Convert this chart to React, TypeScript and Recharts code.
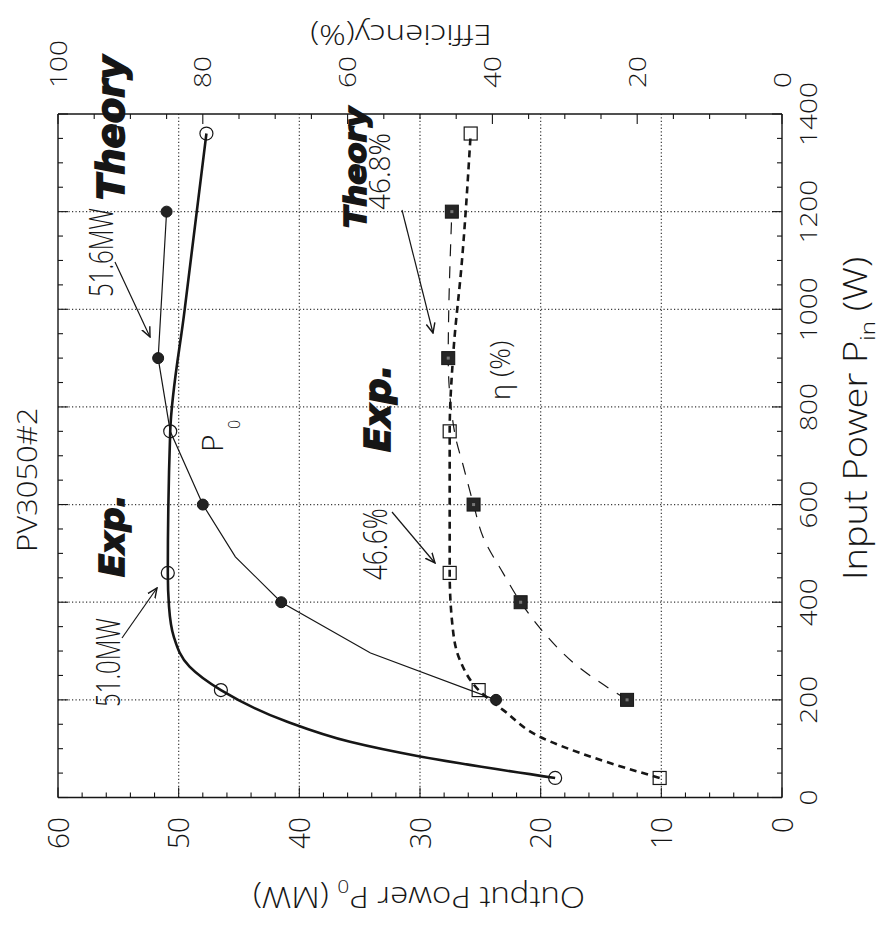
import React from 'react';
import { ComposedChart, Line, Scatter, XAxis, YAxis, CartesianGrid } from 'recharts';

// The scanned figure is lying on its side, so the chart is built upright and turned -90deg.
const CHART_W = 934;
const CHART_H = 883;

const INK = '#161616';
const FONT = '"Open Sans", "Liberation Sans", Arial, sans-serif';
const HAND = '"DejaVu Sans", "Liberation Sans", sans-serif';

// ticks
const pinTicks = [0, 50, 100, 150, 200, 250, 300, 350, 400, 450, 500, 550, 600, 650, 700, 750, 800, 850, 900, 950, 1000, 1050, 1100, 1150, 1200, 1250, 1300, 1350, 1400];
const pinLabels = [0, 200, 400, 600, 800, 1000, 1200, 1400];
const pinGrid = [200, 400, 600, 800, 1000, 1200];
const mwTicks = [0, 2, 4, 6, 8, 10, 12, 14, 16, 18, 20, 22, 24, 26, 28, 30, 32, 34, 36, 38, 40, 42, 44, 46, 48, 50, 52, 54, 56, 58, 60];
const mwLabels = [0, 10, 20, 30, 40, 50, 60];
const mwGrid = [10, 20, 30, 40, 50];
const effTicks = [0, 5, 10, 15, 20, 25, 30, 35, 40, 45, 50, 55, 60, 65, 70, 75, 80, 85, 90, 95, 100];
const effLabels = [0, 20, 40, 60, 80, 100];

// output power P0 (MW) vs input power (W)
const expPowerMarks = [
  { x: 40, y: 18.8 }, { x: 220, y: 46.5 }, { x: 460, y: 50.9 }, { x: 750, y: 50.7 }, { x: 1360, y: 47.7 },
];
const expPowerCurve = [
  { x: 40, y: 18.8 }, { x: 70, y: 26.7 }, { x: 84, y: 30.0 }, { x: 114, y: 35.8 }, { x: 155, y: 41.0 },
  { x: 220, y: 46.5 }, { x: 268, y: 49.1 }, { x: 329, y: 50.4 }, { x: 391, y: 50.8 }, { x: 460, y: 50.9 },
  { x: 750, y: 50.7 }, { x: 1000, y: 49.5 }, { x: 1360, y: 47.7 },
];
const theoryPowerMarks = [
  { x: 200, y: 23.7 }, { x: 400, y: 41.5 }, { x: 600, y: 48.0 }, { x: 900, y: 51.7 }, { x: 1200, y: 51.0 },
];
const theoryPowerCurve = [
  { x: 200, y: 23.7 }, { x: 296, y: 34.1 }, { x: 400, y: 41.5 }, { x: 493, y: 45.3 }, { x: 600, y: 48.0 },
  { x: 750, y: 50.7 }, { x: 900, y: 51.7 }, { x: 1200, y: 51.0 },
];

// efficiency (%) vs input power (W)
const expEffMarks = [
  { x: 40, y: 16.9 }, { x: 220, y: 41.9 }, { x: 460, y: 45.9 }, { x: 750, y: 45.9 }, { x: 1360, y: 43.0 },
];
const expEffCurve = [
  { x: 40, y: 16.9 }, { x: 82, y: 26.1 }, { x: 124, y: 33.4 }, { x: 179, y: 38.5 }, { x: 220, y: 41.9 },
  { x: 282, y: 44.5 }, { x: 350, y: 45.5 }, { x: 460, y: 45.9 }, { x: 750, y: 45.9 }, { x: 910, y: 45.4 },
  { x: 1100, y: 44.2 }, { x: 1360, y: 43.0 },
];
const theoryEffMarks = [
  { x: 200, y: 21.4 }, { x: 400, y: 36.1 }, { x: 600, y: 42.6 }, { x: 900, y: 46.1 }, { x: 1200, y: 45.6 },
];
const theoryEffCurve = [
  { x: 200, y: 21.4 }, { x: 271, y: 28.4 }, { x: 343, y: 33.2 }, { x: 400, y: 36.1 }, { x: 459, y: 38.5 },
  { x: 534, y: 41.3 }, { x: 600, y: 42.6 }, { x: 678, y: 44.0 }, { x: 746, y: 45.2 }, { x: 900, y: 46.1 },
  { x: 1200, y: 45.6 },
];

// text with a vertical squash, the scan is not square
const Txt = ({ x, y, size, sy = 1, rot = 0, anchor = 'start', hand = false, children }: any) => (
  <text
    transform={`translate(${x} ${y}) rotate(${rot}) scale(1 ${sy})`}
    textAnchor={anchor}
    fontSize={size}
    fontFamily={hand ? HAND : FONT}
    fontWeight={hand ? 700 : 300}
    fontStyle={hand ? 'italic' : 'normal'}
    fill={INK}
    stroke={hand ? INK : 'none'}
    strokeWidth={hand ? 1.6 : 0}
  >
    {children}
  </text>
);

const PinTick = ({ x, y, payload }: any) => {
  const major = pinLabels.includes(payload.value);
  return (
    <g>
      <line x1={x} x2={x} y1={y} y2={y - (major ? 10 : 5)} stroke={INK} strokeWidth={1.1} />
      {major && (
        <text transform={`translate(${x} ${y + 26}) scale(1 0.85)`} dy="0.36em" textAnchor="middle"
          fontSize={28} fontFamily={FONT} fontWeight={300} fill={INK}>{payload.value}</text>
      )}
    </g>
  );
};

const PinTopTick = ({ x, y, payload }: any) => {
  const major = pinLabels.includes(payload.value);
  return <line x1={x} x2={x} y1={y} y2={y + (major ? 10 : 5)} stroke={INK} strokeWidth={1.1} />;
};

const MwTick = ({ x, y, payload }: any) => {
  const major = mwLabels.includes(payload.value);
  return (
    <g>
      <line x1={x} x2={x + (major ? 10 : 5)} y1={y} y2={y} stroke={INK} strokeWidth={1.1} />
      {major && (
        <text transform={`translate(${x - 19.5} ${y}) scale(1 1.05)`} dy="0.36em" textAnchor="end"
          fontSize={28} fontFamily={FONT} fontWeight={300} fill={INK}>{payload.value}</text>
      )}
    </g>
  );
};

const EffTick = ({ x, y, payload }: any) => {
  const major = effLabels.includes(payload.value);
  return (
    <g>
      <line x1={x} x2={x - (major ? 10 : 5)} y1={y} y2={y} stroke={INK} strokeWidth={1.1} />
      {major && (
        <text transform={`translate(${x + 26} ${y}) scale(1 0.85)`} dy="0.36em" textAnchor="start"
          fontSize={28} fontFamily={FONT} fontWeight={300} fill={INK}>{payload.value}</text>
      )}
    </g>
  );
};

const openCircle = (p: any) => <circle cx={p.cx} cy={p.cy} r={6.5} fill="none" stroke={INK} strokeWidth={1.2} />;
const filledCircle = (p: any) => <circle cx={p.cx} cy={p.cy} r={5.5} fill="#222" stroke={INK} strokeWidth={1} />;
const openSquare = (p: any) => <rect x={p.cx - 6.5} y={p.cy - 6.5} width={13} height={13} fill="none" stroke={INK} strokeWidth={1.2} />;
const filledSquare = (p: any) => (
  <g>
    <rect x={p.cx - 6.5} y={p.cy - 6.5} width={13} height={13} fill="#262626" stroke={INK} strokeWidth={1} />
    <rect x={p.cx - 1.5} y={p.cy - 1.5} width={3} height={3} fill="#777" />
  </g>
);

const axisLine = { stroke: INK, strokeWidth: 1.4 };

const Arrow = ({ x1, y1, x2, y2 }: any) => (
  <line x1={x1} y1={y1} x2={x2} y2={y2} stroke={INK} strokeWidth={1.2} markerEnd="url(#arrowHead)" />
);

export default function App() {
  return (
    <div style={{ position: 'absolute', left: 0, top: 0, width: 883, height: 934, overflow: 'hidden', background: '#fff' }}>
      <div
        style={{
          position: 'absolute', left: 0, top: 0, width: CHART_W, height: CHART_H,
          transformOrigin: '0 0', transform: `translate(0px, ${CHART_W}px) rotate(-90deg)`,
        }}
      >
        <ComposedChart width={CHART_W} height={CHART_H} margin={{ top: 48, right: 74, bottom: 61, left: 96.5 }}>
          <CartesianGrid
            horizontalValues={mwGrid}
            verticalValues={pinGrid}
            stroke="#3a3a3a"
            strokeWidth={1.2}
            strokeDasharray="1.2 2.3"
          />
          <XAxis dataKey="x" type="number" domain={[0, 1400]} ticks={pinTicks} interval={0} allowDataOverflow
            height={40} tickSize={0} tickMargin={0} tickLine={false} axisLine={axisLine} tick={<PinTick />} />
          <XAxis xAxisId="top" orientation="top" dataKey="x" type="number" domain={[0, 1400]} ticks={pinTicks}
            interval={0} allowDataOverflow height={10} tickSize={0} tickMargin={0} tickLine={false}
            axisLine={axisLine} tick={<PinTopTick />} />
          <YAxis type="number" domain={[0, 60]} ticks={mwTicks} interval={0} allowDataOverflow width={40}
            tickSize={0} tickMargin={0} tickLine={false} axisLine={axisLine} tick={<MwTick />} />
          <YAxis yAxisId="eff" orientation="right" type="number" domain={[0, 100]} ticks={effTicks} interval={0}
            allowDataOverflow width={40} tickSize={0} tickMargin={0} tickLine={false} axisLine={axisLine}
            tick={<EffTick />} />

          <Line data={expPowerCurve} dataKey="y" type="monotone" stroke={INK} strokeWidth={2.6}
            dot={false} activeDot={false} isAnimationActive={false} />
          <Line data={theoryPowerCurve} dataKey="y" type="linear" stroke={INK} strokeWidth={1.2}
            dot={false} activeDot={false} isAnimationActive={false} />
          <Line yAxisId="eff" data={expEffCurve} dataKey="y" type="monotone" stroke={INK} strokeWidth={2.6}
            strokeDasharray="7 5" dot={false} activeDot={false} isAnimationActive={false} />
          <Line yAxisId="eff" data={theoryEffCurve} dataKey="y" type="monotone" stroke={INK} strokeWidth={1.2}
            strokeDasharray="12 10" dot={false} activeDot={false} isAnimationActive={false} />

          <Scatter data={expPowerMarks} dataKey="y" shape={openCircle} isAnimationActive={false} />
          <Scatter data={theoryPowerMarks} dataKey="y" shape={filledCircle} isAnimationActive={false} />
          <Scatter yAxisId="eff" data={expEffMarks} dataKey="y" shape={openSquare} isAnimationActive={false} />
          <Scatter yAxisId="eff" data={theoryEffMarks} dataKey="y" shape={filledSquare} isAnimationActive={false} />
        </ComposedChart>

        <svg width={CHART_W} height={CHART_H} style={{ position: 'absolute', left: 0, top: 0, pointerEvents: 'none' }}>
          <defs>
            <marker id="arrowHead" viewBox="0 0 10 10" refX="9" refY="5" markerWidth="11" markerHeight="11"
              markerUnits="userSpaceOnUse" orient="auto">
              <path d="M0,1 L9,5 L0,9" fill="none" stroke={INK} strokeWidth="1.3" />
            </marker>
          </defs>

          {/* titles */}
          <Txt x={382} y={37} size={31} sy={0.9}>PV3050#2</Txt>
          <Txt x={354} y={867} size={38} sy={0.85}>
            Input Power P<tspan fontSize={24} dy={9}>in</tspan><tspan dy={-9}> (W)</tspan>
          </Txt>
          <Txt x={47} y={419} size={33} sy={0.9} rot={-90} anchor="middle">
            Output Power P<tspan fontSize={21} dy={8}>0</tspan><tspan dy={-8}> (MW)</tspan>
          </Txt>
          <Txt x={909} y={401} size={33} sy={0.85} rot={-90} anchor="middle">Efficiency(%)</Txt>

          {/* notes on the power curves */}
          <Txt x={637} y={113} size={24} sy={1.35}>51.6MW</Txt>
          <Txt x={734} y={124} size={37} hand>Theory</Txt>
          <Arrow x1={672} y1={115} x2={597} y2={150} />
          <Txt x={227} y={120} size={24} sy={1.35}>51.0MW</Txt>
          <Txt x={357} y={124} size={34} hand>Exp.</Txt>
          <Arrow x1={296} y1={122} x2={346} y2={157} />
          <Txt x={482} y={223} size={30}>P</Txt>
          <Txt x={505} y={240} size={16}>0</Txt>

          {/* notes on the efficiency curves */}
          <Txt x={354} y={387} size={26} sy={1.3}>46.6%</Txt>
          <Txt x={482} y={390} size={36} hand>Exp.</Txt>
          <Arrow x1={422} y1={392} x2={371} y2={435} />
          <Txt x={706} y={366} size={31} hand>Theory</Txt>
          <Txt x={724} y={390} size={28} sy={1.05}>46.8%</Txt>
          <Arrow x1={724} y1={402} x2={601} y2={433} />
          <Txt x={534} y={510} size={27}>η (%)</Txt>
        </svg>
      </div>
    </div>
  );
}
